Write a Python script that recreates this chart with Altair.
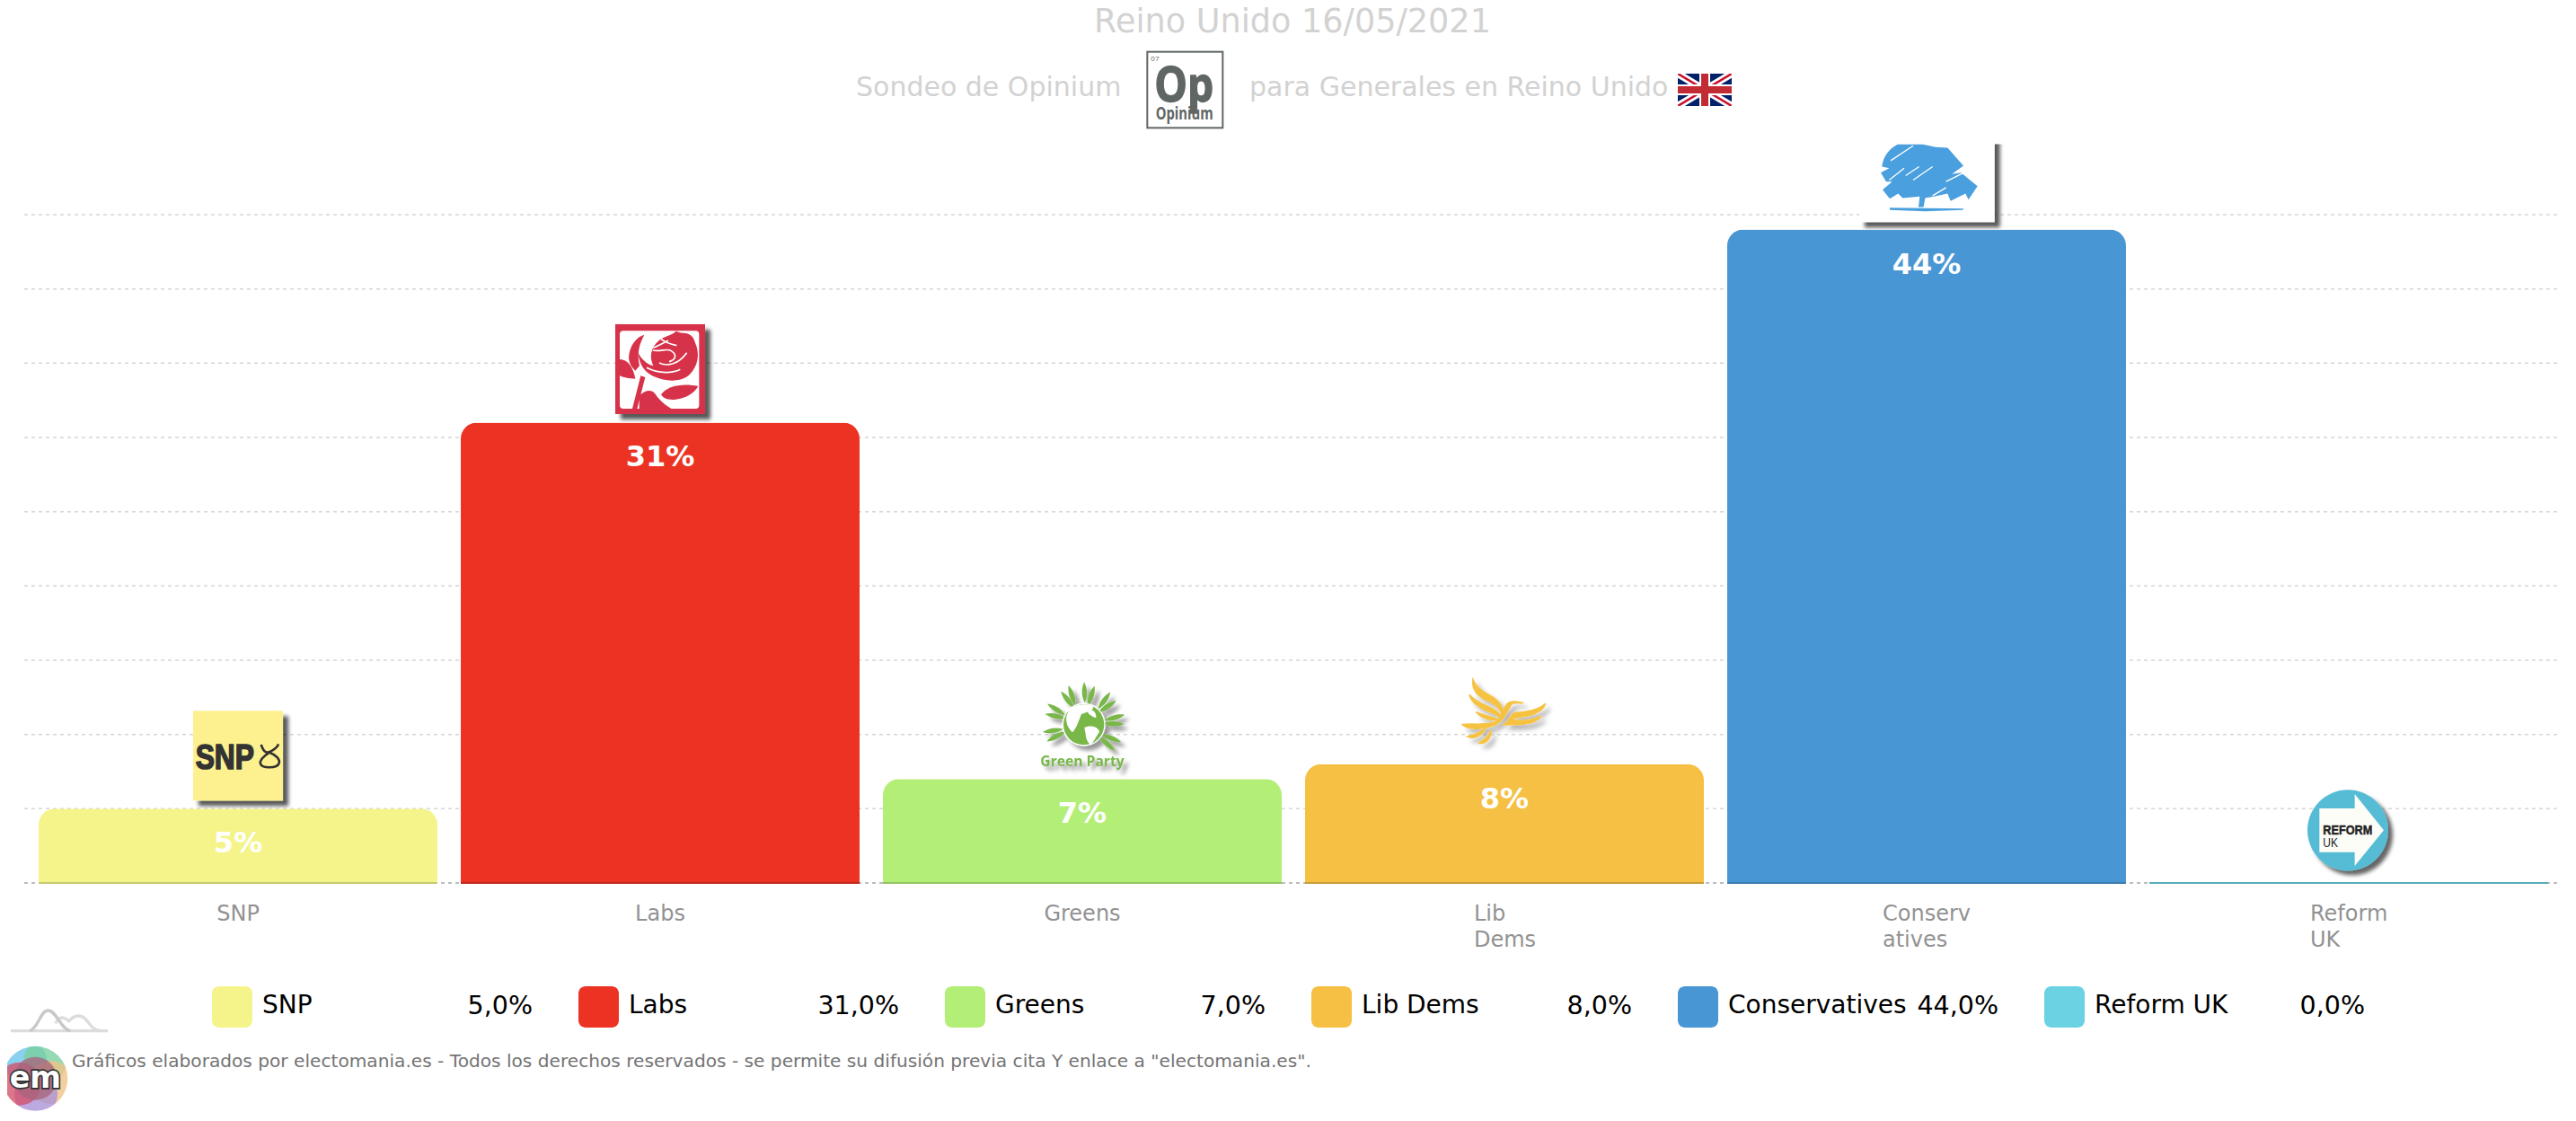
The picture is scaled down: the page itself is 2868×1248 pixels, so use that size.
import base64
import altair as alt
import pandas as pd

# ---------- values ----------
categories = ["SNP", "Labs", "Greens", "Lib Dems", "Conservatives", "Reform UK"]
axis_labels = ["SNP", "Labs", "Greens", "Lib\nDems", "Conserv\natives", "Reform\nUK"]
axis_half_width = [0, 0, 0, 34, 49, 43]
values = [5, 31, 7, 8, 44, 0]
bar_labels = ["5%", "31%", "7%", "8%", "44%", ""]
legend_values = ["5,0%", "31,0%", "7,0%", "8,0%", "44,0%", "0,0%"]
colors = ["#f5f48a", "#ec3323", "#b3ee77", "#f5c043", "#4896d3", "#6ad2e3"]
grid_values = [5, 10, 15, 20, 25, 30, 35, 40, 45]

title_text = "Reino Unido 16/05/2021"
sub_left = "Sondeo de Opinium"
sub_right = "para Generales en Reino Unido"
footer = 'Gráficos elaborados por electomania.es - Todos los derechos reservados - se permite su difusión previa cita Y enlace a "electomania.es".'

FONT = "DejaVu Sans"
PW, PH = 2820, 744


def uri(svg):
    return "data:image/svg+xml;base64," + base64.b64encode(svg.encode("utf-8")).decode()


def canvas(w, h, body, vb=None):
    vb = vb or f"0 0 {w} {h}"
    return uri(f'<svg xmlns="http://www.w3.org/2000/svg" width="{w}" height="{h}" viewBox="{vb}">{body}</svg>')


def shadow(dx, sd, op):
    return (f'<defs><filter id="s" x="-40%" y="-40%" width="190%" height="190%">'
            f'<feDropShadow dx="{dx}" dy="{dx}" stdDeviation="{sd}" flood-color="#000" flood-opacity="{op}"/>'
            f'</filter></defs>')


LW, LH = 180, 115

snp_logo = canvas(LW, LH, shadow(18, 6, .65) + '''<g transform="translate(25,-5) scale(.33333)">
<rect x="45" y="33" width="300" height="300" fill="#fdf08e" filter="url(#s)"/>
<text x="53" y="226" font-family="Liberation Sans" font-weight="700" font-size="118" textLength="196" lengthAdjust="spacingAndGlyphs" fill="#333" stroke="#333" stroke-width="5">SNP</text>
<path d="M272,146 C285,185 300,170 310,165 C322,158 328,150 330,144 M300,172 C280,185 266,198 270,210 C275,226 325,226 332,208 C336,196 322,180 300,172" fill="none" stroke="#333" stroke-width="8"/>
</g>''')

labs_logo = canvas(LW, LH, shadow(18, 6, .65) + '''<g transform="translate(25,-5.5) scale(.33333)">
<rect x="45" y="33" width="300" height="300" fill="#d6334a" filter="url(#s)"/>
<rect x="60" y="55" width="265" height="260" rx="12" fill="#fff"/>
<g fill="#d6334a">
<path d="M180,98 C200,72 230,74 248,56 C268,68 300,52 312,95 C328,130 322,170 296,198 C270,228 215,226 175,208 C150,195 128,180 120,125 C132,150 150,165 172,172 C160,145 162,120 180,98Z"/>
<path d="M90,145 C92,105 115,75 142,68 C128,95 116,125 126,172 L112,188 C100,178 92,165 90,145Z"/>
<path d="M60,150 C85,150 105,175 112,215 C90,215 70,210 60,205Z"/>
<path d="M198,268 C215,240 270,228 322,240 C310,262 280,282 240,285 C220,286 205,280 198,268Z"/>
<path d="M130,205 L145,210 L118,315 L102,315Z"/>
<path d="M125,272 C145,250 170,250 180,268 C195,290 215,305 232,315 L125,315Z"/>
</g>
<g fill="none" stroke="#fff" stroke-width="5">
<path d="M172,112 C190,104 205,96 222,88 M198,82 C210,92 222,98 250,104 M170,120 C195,126 218,112 232,122 C248,132 252,150 225,158 M192,162 C220,176 256,166 284,128 M150,178 C190,200 240,196 262,184"/>
</g>
</g>''')

petals = "".join(
    f'<path transform="rotate({a} 200 170)" d="M{200 + o},{98 + d} C{188 + o},{75 + d} {190 + o},{48 + d} {200 + o},{28 + d} C{210 + o},{48 + d} {212 + o},{75 + d} {200 + o},{98 + d}Z"/>'
    for a, o, d in [(-118, 8, 6), (-98, -6, 2), (-78, 8, 8), (-58, -6, 2), (-38, 8, 8), (-18, -8, 2),
                    (-2, 6, 0), (18, -6, 8), (36, 8, 2), (56, -6, 8), (74, 6, 2), (92, -6, 8),
                    (112, 8, 4), (132, -4, 6)]
)
greens_logo = canvas(LW, LH, shadow(15, 7, .4) + f'''<g transform="translate(25,-2.3) scale(.33333)">
<g filter="url(#s)">
<g fill="#79b74a">{petals}</g>
<circle cx="200" cy="170" r="72" fill="#fff"/>
<circle cx="200" cy="170" r="68" fill="#79b74a"/>
<g fill="#fff">
<path d="M152,118 C175,100 212,100 230,108 C238,122 212,128 192,135 C182,160 176,182 162,196 C150,186 138,165 142,142Z"/>
<path d="M202,180 C225,170 250,178 252,195 C243,205 238,222 224,236 C215,236 206,215 206,202Z"/>
<path d="M212,122 C225,115 243,126 241,148 C228,143 212,135 212,122Z"/>
</g>
<text x="55" y="310" font-family="Open Sans" font-weight="700" font-size="50" textLength="280" lengthAdjust="spacingAndGlyphs" fill="#79b74a">Green Party</text>
</g></g>''')

libdems_logo = canvas(LW, LH, shadow(15, 8, .3) + '''<g transform="translate(25,4.3) scale(.33333)"><g fill="#f6c242" stroke="#f6c242" stroke-width="5" filter="url(#s)">
<path d="M90,50 C85,85 110,110 150,125 C170,135 185,150 185,170 C195,140 175,120 150,105 C120,90 100,75 90,50Z"/>
<path d="M78,100 C85,130 120,150 165,165 C175,170 182,178 180,190 C190,165 165,150 130,135 C105,125 90,115 78,100Z"/>
<path d="M100,158 C115,175 140,185 160,185 L175,185 C160,175 125,170 100,158Z"/>
<path d="M55,200 C75,220 130,215 165,200 C195,185 205,150 220,130 C230,125 245,128 258,128 C235,122 215,122 205,130 C190,145 190,175 170,190 C140,205 90,195 55,200Z"/>
<path d="M332,130 C310,150 270,160 235,160 C220,162 215,175 205,190 C225,175 250,175 275,170 C300,165 325,150 332,130Z"/>
<path d="M318,172 C290,185 255,190 220,185 C210,190 200,195 190,200 C230,200 290,205 318,172Z"/>
<path d="M72,240 C90,235 115,225 130,215 C120,235 95,250 72,240Z"/>
<path d="M108,262 C125,255 140,240 150,220 C150,245 135,265 108,262Z"/>
</g></g>''')

cons_logo = canvas(LW, LH, shadow(18, 6, .65) + '''<defs><clipPath id="c"><rect x="400" y="60" width="800" height="400"/></clipPath></defs>
<g transform="translate(-155,0) scale(.33333)"><g clip-path="url(#c)">
<rect x="510" y="0" width="452" height="320" fill="#fff" filter="url(#s)"/>
<path fill="#4a9fdf" d="M640,60 L720,60 L765,70 L805,72 L858,132 L820,160 L850,155 L905,200 L875,245 L865,225 L815,250 L805,225 L760,235 L730,240 L725,270 L708,270 L712,235 L655,240 L640,225 L612,242 L588,212 L620,185 L600,185 L582,155 L610,140 L586,135 C590,100 610,75 640,60Z"/>
<path fill="#4a9fdf" d="M612,272 L860,275 L855,280 L730,284 L612,280Z"/>
<g stroke="#fff" stroke-width="4" fill="none">
<path d="M615,115 L690,65 M665,165 L710,135 M690,180 L755,135 M755,232 L800,205 M800,185 L860,155 M610,180 L660,140"/>
</g></g></g>''')

reform_logo = canvas(LW, LH, shadow(15, 7, .6) + '''<g transform="translate(14,-8) scale(.33333)">
<circle cx="225" cy="193" r="135" fill="#57bcd5" filter="url(#s)"/>
<path fill="#fdfdf8" d="M130,120 L248,120 L248,72 L345,193 L248,312 L248,266 L130,266Z"/>
<text x="142" y="208" font-family="Liberation Sans" font-weight="700" font-size="46" textLength="165" lengthAdjust="spacingAndGlyphs" fill="#222" stroke="#222" stroke-width="1.5">REFORM</text>
<text x="142" y="250" font-family="Liberation Sans" font-size="46" textLength="50" lengthAdjust="spacingAndGlyphs" fill="#222">UK</text>
</g>''')

logos = [snp_logo, labs_logo, greens_logo, libdems_logo, cons_logo, reform_logo]

opinium_logo = canvas(120, 100, '''<g transform="scale(.33333)" fill="#5f6664" font-family="Open Sans">
<rect x="52" y="23" width="252" height="254" fill="#fff" stroke="#5f6664" stroke-width="6"/>
<text x="64" y="55" font-size="24">07</text>
<text x="76" y="190" font-size="160" font-weight="700" stroke="#5f6664" stroke-width="4" textLength="198" lengthAdjust="spacingAndGlyphs">Op</text>
<text x="80" y="250" font-size="56" font-weight="700" textLength="192" lengthAdjust="spacingAndGlyphs">Opinium</text>
</g>''')

flag_logo = canvas(60, 36, '''<clipPath id="f"><rect width="60" height="36" rx="1"/></clipPath><g clip-path="url(#f)">
<rect width="60" height="36" fill="#012169"/>
<path d="M0,0 L60,36 M60,0 L0,36" stroke="#fff" stroke-width="8"/>
<path d="M0,0 L60,36 M60,0 L0,36" stroke="#c8102e" stroke-width="2.5"/>
<path d="M30,0 V36 M0,18 H60" stroke="#fff" stroke-width="12"/>
<path d="M30,0 V36 M0,18 H60" stroke="#c22b33" stroke-width="8"/>
</g>''')

hills_logo = canvas(130, 50, '''<g transform="scale(.33333)" fill="none" stroke-width="10">
<path d="M36,113 H360" stroke="#dcdcdc"/>
<path d="M185,88 C200,60 215,68 230,80 C250,58 275,55 295,85 C310,105 320,113 340,113" stroke="#dcdcdc"/>
<path d="M100,113 C130,100 135,45 160,45 C190,45 200,105 235,113" stroke="#c8c8c8"/>
</g>''')

wheel = "".join(
    f'<circle cx="{x}" cy="{y}" r="72" fill="{c}" opacity=".78"/>'
    for x, y, c in [(85, 215, "#69c4ea"), (150, 215, "#78cf9e"), (170, 285, "#f0c285"),
                    (120, 325, "#a891d6"), (65, 290, "#d4506a"), (118, 272, "#a8647c")]
)
em_logo = canvas(90, 90, f'''<defs><clipPath id="e"><circle cx="118" cy="272" r="108"/></clipPath></defs>
<g transform="translate(0,-45) scale(.33333)"><g clip-path="url(#e)">{wheel}</g>
<text x="118" y="304" text-anchor="middle" font-family="DejaVu Sans" font-weight="700" font-size="100" textLength="172" lengthAdjust="spacingAndGlyphs" fill="#fff" stroke="#333" stroke-width="10" paint-order="stroke">em</text>
</g>''')

# ---------- tables ----------
bars = pd.DataFrame({
    "cat": categories, "value": values, "color": colors, "label": bar_labels,
    "axis": axis_labels, "half": axis_half_width, "legend": legend_values,
    "logo": logos, "i": range(len(categories)),
})

x_enc = alt.X("cat:N", scale=alt.Scale(domain=categories, paddingInner=0.0553, paddingOuter=0.0277), axis=None)
y_scale = alt.Scale(domain=[0, 45])
y_enc = alt.Y("value:Q", scale=y_scale, axis=None)
base = alt.Chart(bars)

# ---------- layers ----------
grid = alt.Chart(pd.DataFrame({"value": grid_values})).mark_rule(
    color="#d6d6d6", strokeWidth=1.5, strokeDash=[4, 4]
).encode(y=y_enc, x=alt.value(-3), x2=alt.value(2819))

baseline = alt.Chart(pd.DataFrame({"value": [0]})).mark_rule(
    color="#bdbdbd", strokeWidth=2, strokeDash=[4, 4]
).encode(y=y_enc, x=alt.value(-3), x2=alt.value(2819))

column = base.mark_bar(cornerRadiusTopLeft=18, cornerRadiusTopRight=18).encode(
    x=x_enc, y=y_enc, color=alt.Color("color:N", scale=None)
)

strip = base.mark_bar().encode(
    x=x_enc, y=alt.value(PH - 1), y2=alt.value(PH + 1), color=alt.Color("color:N", scale=None)
)
strip_dark = base.mark_bar(color="#000", opacity=0.18).encode(
    x=x_enc, y=alt.value(PH - 1), y2=alt.value(PH + 1)
)

value_text = base.transform_filter("datum.value > 0").mark_text(
    font=FONT, fontSize=32, fontWeight="bold", color="#fff", dy=39, baseline="middle"
).encode(x=x_enc, y=y_enc, text="label:N")

logo_layer = base.mark_image(width=LW, height=LH, align="center", baseline="bottom").encode(
    x=x_enc, y=y_enc, url="logo:N"
)

axis_layers = [
    base.transform_filter(alt.datum.cat == c).mark_text(
        font=FONT, fontSize=24, color="#929292", align="left" if h else "center",
        baseline="alphabetic", lineBreak="\n", lineHeight=29, dx=-h
    ).encode(x=x_enc, y=alt.value(786), text="axis:N")
    for c, h in zip(categories, axis_half_width)
]

leg = base.transform_calculate(
    sw0="206 + 408 * datum.i", sw1="251 + 408 * datum.i",
    name_x="262 + 408 * datum.i", val_x="563 + 408 * datum.i"
)
legend_swatch = leg.mark_rect(cornerRadius=8).encode(
    x=alt.X("sw0:Q", scale=None, axis=None), x2="sw1:Q",
    y=alt.value(859), y2=alt.value(905), color=alt.Color("color:N", scale=None)
)
legend_name = leg.mark_text(font=FONT, fontSize=28, color="#000", align="left", baseline="middle").encode(
    x=alt.X("name_x:Q", scale=None, axis=None), y=alt.value(881), text="cat:N"
)
legend_val = leg.mark_text(font=FONT, fontSize=28.5, color="#000", align="right", baseline="middle").encode(
    x=alt.X("val_x:Q", scale=None, axis=None), y=alt.value(881), text="legend:N"
)


def note(text, x, y, size, color, align="left"):
    return alt.Chart(pd.DataFrame({"t": [text]})).mark_text(
        font=FONT, fontSize=size, color=color, align=align, baseline="alphabetic"
    ).encode(x=alt.value(x), y=alt.value(y), text="t:N")


def picture(url, x, y, w, h):
    return alt.Chart(pd.DataFrame({"u": [url]})).mark_image(
        width=w, height=h, align="left", baseline="top"
    ).encode(x=alt.value(x), y=alt.value(y), url="u:N")


chart = alt.layer(
    grid, baseline, column, strip, strip_dark, value_text, logo_layer,
    *axis_layers,
    legend_swatch, legend_name, legend_val,
    note(title_text, 1409, -203, 36.6, "#d2d2d2", "center"),
    note(sub_left, 923, -132, 30, "#d2d2d2"),
    note(sub_right, 1361, -132, 30, "#d2d2d2"),
    picture(opinium_logo, 1230, -189, 120, 100),
    picture(flag_logo, 1838, -157, 60, 36),
    picture(hills_logo, -30, 871, 130, 50),
    picture(em_logo, -30, 916, 90, 90),
    note(footer, 50, 949, 20.15, "#747474"),
).properties(
    width=PW, height=PH,
    padding={"left": 22, "top": 231, "right": 10, "bottom": 256},
    autosize=alt.AutoSizeParams(type="none"),
    background="#ffffff",
).configure_view(stroke=None)

chart.save("out.html", embed_options={"renderer": "svg", "actions": False})
